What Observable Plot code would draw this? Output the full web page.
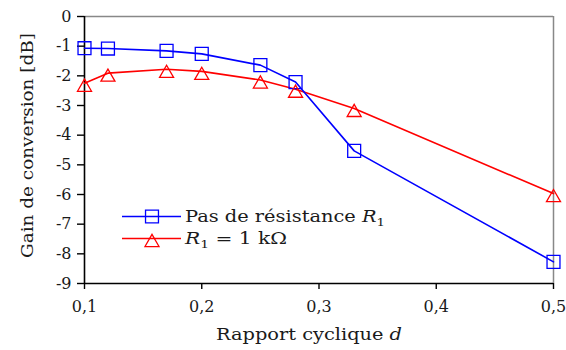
<!DOCTYPE html>
<html>
<head>
<meta charset="utf-8">
<script src="https://cdn.jsdelivr.net/npm/d3@7"></script>
<script src="https://cdn.jsdelivr.net/npm/@observablehq/plot@0.6"></script>
<style>
  html, body { margin: 0; padding: 0; background: white; }
  #chart { width: 566px; height: 350px; }
</style>
</head>
<body>
<div id="chart"></div>
<script>
// Data
const dutyCycle = [0.1, 0.12, 0.17, 0.2, 0.25, 0.28, 0.33, 0.5];
const gainNoResistor = [-1.07, -1.08, -1.16, -1.26, -1.64, -2.21, -4.53, -8.27];
const gainR1k = [-2.25, -1.91, -1.78, -1.85, -2.14, -2.45, -3.1, -5.97];
const xTicks = [0.1, 0.2, 0.3, 0.4, 0.5];
const yTicks = [0, -1, -2, -3, -4, -5, -6, -7, -8, -9];
const seriesNames = ["Pas de résistance", "R1 = 1 kΩ"];
const xLabel = "Rapport cyclique";
const yLabel = "Gain de conversion [dB]";

const blue = "#0000ff", red = "#ff0000";
const blueData = dutyCycle.map((d, i) => ({x: d, y: gainNoResistor[i]}));
const redData = dutyCycle.map((d, i) => ({x: d, y: gainR1k[i]}));

const font = "DejaVu Serif";
const textColor = "#1a1a1a";

const svg = Plot.plot({
  width: 566,
  height: 350,
  marginLeft: 84,
  marginRight: 13,
  marginTop: 16,
  marginBottom: 67,
  style: {fontFamily: font, fontSize: "16px", color: textColor, background: "white", overflow: "visible"},
  x: {domain: [0.1, 0.5], label: null},
  y: {domain: [-9, 0], label: null},
  marks: [
    Plot.ruleY([0], {stroke: "#888", strokeWidth: 1.5}),
    Plot.ruleX([0.5], {stroke: "#888", strokeWidth: 1.5}),
    Plot.ruleX([0.1], {stroke: "black", strokeWidth: 1.6}),
    Plot.ruleY([-9], {stroke: "black", strokeWidth: 1.6}),
    Plot.axisX({ticks: xTicks, tickSize: 6, tickPadding: 11, stroke: "black", strokeWidth: 1.4,
      tickFormat: d => d.toFixed(1).replace(".", ","), fill: textColor, label: null}),
    Plot.axisY({ticks: yTicks, tickSize: 7, tickPadding: 6, stroke: "black", strokeWidth: 1.4,
      tickFormat: d => String(d), fill: textColor, label: null}),
    Plot.line(redData, {x: "x", y: "y", stroke: red, strokeWidth: 1.6, strokeLinejoin: "round"}),
    Plot.line(blueData, {x: "x", y: "y", stroke: blue, strokeWidth: 1.6, strokeLinejoin: "round"}),
    Plot.dot(blueData, {x: "x", y: "y", symbol: "square", r: 7.3, stroke: blue, strokeWidth: 1.3, fill: "none"}),
    Plot.dot(redData, {x: "x", y: "y", symbol: "triangle", r: 5.2, dy: 4, stroke: red, strokeWidth: 1.3, fill: "none"})
  ]
});

const s = d3.select(svg);

// X axis label with italic d
const xl = s.append("text")
  .attr("x", 309).attr("y", 340)
  .attr("text-anchor", "middle")
  .attr("fill", textColor)
  .attr("font-family", font).attr("font-size", 16)
  .attr("textLength", 186).attr("lengthAdjust", "spacingAndGlyphs");
xl.append("tspan").text(xLabel + " ");
xl.append("tspan").attr("font-style", "italic").text("d");

// Y axis label
s.append("text")
  .attr("transform", "translate(33,145.5) rotate(-90)")
  .attr("text-anchor", "middle")
  .attr("fill", textColor)
  .attr("font-family", font).attr("font-size", 16)
  .attr("textLength", 225).attr("lengthAdjust", "spacingAndGlyphs")
  .text(yLabel);

// Legend
const legend = s.append("g");
const rows = [
  {y: 216.5, color: blue, sym: d3.symbol(d3.symbolSquare, 7.3 * 7.3 * Math.PI), dy: 0, len: 200},
  {y: 238.5, color: red, sym: d3.symbol(d3.symbolTriangle, 5.2 * 5.2 * Math.PI), dy: 4, len: 102}
];
rows.forEach((r, i) => {
  legend.append("line").attr("x1", 122).attr("x2", 181).attr("y1", r.y).attr("y2", r.y)
    .attr("stroke", r.color).attr("stroke-width", 1.6);
  legend.append("path").attr("d", r.sym()).attr("transform", `translate(152,${r.y + r.dy})`)
    .attr("fill", "none").attr("stroke", r.color).attr("stroke-width", 1.3);
  const t = legend.append("text").attr("x", 185).attr("y", r.y + 5.5)
    .attr("text-anchor", "start")
    .attr("fill", textColor).attr("font-family", font).attr("font-size", 16)
    .attr("textLength", r.len).attr("lengthAdjust", "spacingAndGlyphs");
  if (i === 0) {
    t.append("tspan").text(seriesNames[0] + " ");
    t.append("tspan").attr("font-style", "italic").text("R");
    t.append("tspan").attr("font-size", 11).attr("dy", 4).text("1");
  } else {
    t.append("tspan").attr("font-style", "italic").text("R");
    t.append("tspan").attr("font-size", 11).attr("dy", 4).text("1");
    t.append("tspan").attr("dy", -4).text(" = 1 k\u03A9");
  }
});

document.getElementById("chart").appendChild(svg);
</script>
</body>
</html>
